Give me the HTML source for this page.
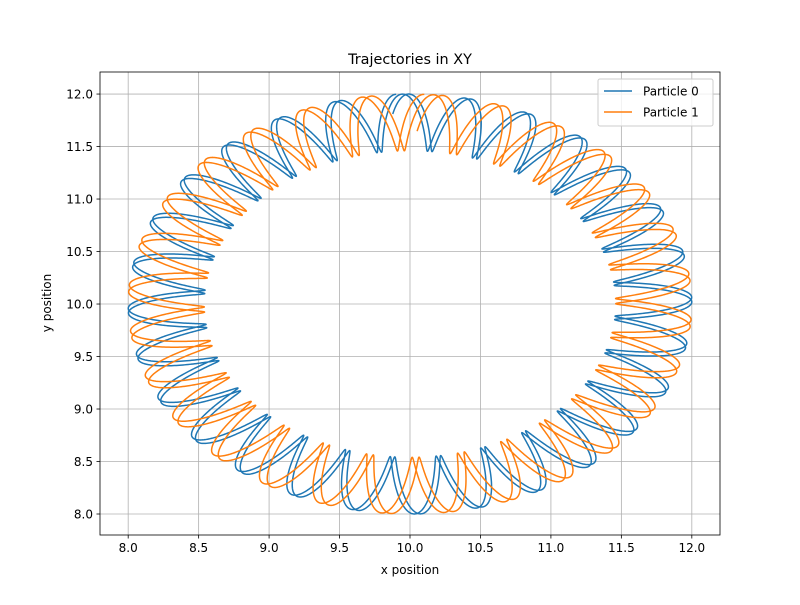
<!DOCTYPE html>
<html><head><meta charset="utf-8"><style>
body{margin:0;background:#fff;font-family:"Liberation Sans","DejaVu Sans",sans-serif}
svg text{font-family:"DejaVu Sans","Liberation Sans",sans-serif;fill:#000}
</style></head><body>
<svg id="chart" width="800" height="600"></svg>
<script>
// data (trajectory parameters)
const particleNames = ["Particle 0", "Particle 1"];
const particleColors = ["#1f77b4", "#ff7f0e"];
const centerX = [10.0, 10.0];
const centerY = [10.0, 10.0];
const guideRadius = [1.73, 1.73];
const radialAmp = [0.27, 0.27];
const tangAmp = [0.035, 0.035];
const gyroCount = [28.1, 28.15];
const turns = [2.0, 2.0];
const startAngle = [1.62, 1.52];
const xTicks = [8.0, 8.5, 9.0, 9.5, 10.0, 10.5, 11.0, 11.5, 12.0];
const yTicks = [8.0, 8.5, 9.0, 9.5, 10.0, 10.5, 11.0, 11.5, 12.0];

const svg = document.getElementById('chart');
const NS = 'http://www.w3.org/2000/svg';
const L = 100, R = 720, T = 72, B = 535;
const xMin = 7.8, xMax = 12.2, yMin = 7.8, yMax = 12.21;
const sx = v => L + (v - xMin) / (xMax - xMin) * (R - L);
const sy = v => B - (v - yMin) / (yMax - yMin) * (B - T);
function mk(tag, attrs, parent) {
  const e = document.createElementNS(NS, tag);
  for (const k in attrs) e.setAttribute(k, attrs[k]);
  (parent || svg).appendChild(e);
  return e;
}
const t = mk('text', {x: 410, y: 64, 'text-anchor': 'middle', 'font-size': 14.4});
t.textContent = 'Trajectories in XY';


const grid = mk('g', {});


xTicks.forEach(v => {
  mk('line', {x1: sx(v), x2: sx(v), y1: T, y2: B, stroke: '#b0b0b0', 'stroke-width': 0.8}, grid);
  mk('line', {x1: sx(v), x2: sx(v), y1: B, y2: B + 3.5, stroke: '#000', 'stroke-width': 0.8});
  const l = mk('text', {x: sx(v), y: B + 17, 'text-anchor': 'middle', 'font-size': 12});
  l.textContent = v.toFixed(1);
  
  
});
yTicks.forEach(v => {
  mk('line', {y1: sy(v), y2: sy(v), x1: L, x2: R, stroke: '#b0b0b0', 'stroke-width': 0.8}, grid);
  mk('line', {y1: sy(v), y2: sy(v), x1: L - 3.5, x2: L, stroke: '#000', 'stroke-width': 0.8});
  const l = mk('text', {x: L - 7, y: sy(v) + 4.5, 'text-anchor': 'end', 'font-size': 12});
  l.textContent = v.toFixed(1);
  
  
});
particleNames.forEach((n, i) => {
  let d = '';
  const steps = 8000;
  for (let k = 0; k <= steps; k++) {
    const th = startAngle[i] + 2 * Math.PI * turns[i] * k / steps;
    const ph = gyroCount[i] * (th - startAngle[i]);
    const rr = guideRadius[i] + radialAmp[i] * Math.cos(ph);
    const tg = tangAmp[i] * Math.sin(ph);
    const x = centerX[i] + rr * Math.cos(th) - tg * Math.sin(th);
    const y = centerY[i] + rr * Math.sin(th) + tg * Math.cos(th);
    d += (k ? 'L' : 'M') + sx(x).toFixed(2) + ',' + sy(y).toFixed(2);
  }
  const p = mk('path', {d: d, fill: 'none', stroke: particleColors[i], 'stroke-width': 1.5, 'stroke-linejoin': 'round'});
  
  
});
const frame = mk('rect', {x: L, y: T, width: R - L, height: B - T, fill: 'none', stroke: '#000', 'stroke-width': 0.8});


const xl = mk('text', {x: 410, y: 574, 'text-anchor': 'middle', 'font-size': 12});
xl.textContent = 'x position';


const yl = mk('text', {x: 0, y: 0, 'text-anchor': 'middle', 'font-size': 12, transform: 'translate(51,303) rotate(-90)'});
yl.textContent = 'y position';


const lg = mk('g', {});


mk('rect', {x: 598, y: 79, width: 115, height: 47, rx: 2, fill: '#fff', 'fill-opacity': 0.8, stroke: '#ccc', 'stroke-width': 1}, lg);
particleNames.forEach((n, i) => {
  const y = 91 + i * 21;
  mk('line', {x1: 604, x2: 632, y1: y, y2: y, stroke: particleColors[i], 'stroke-width': 1.5}, lg);
  const tx = mk('text', {x: 643, y: y + 4.5, 'font-size': 12}, lg);
  tx.textContent = n;
  
  
});
</script>
</body></html>
